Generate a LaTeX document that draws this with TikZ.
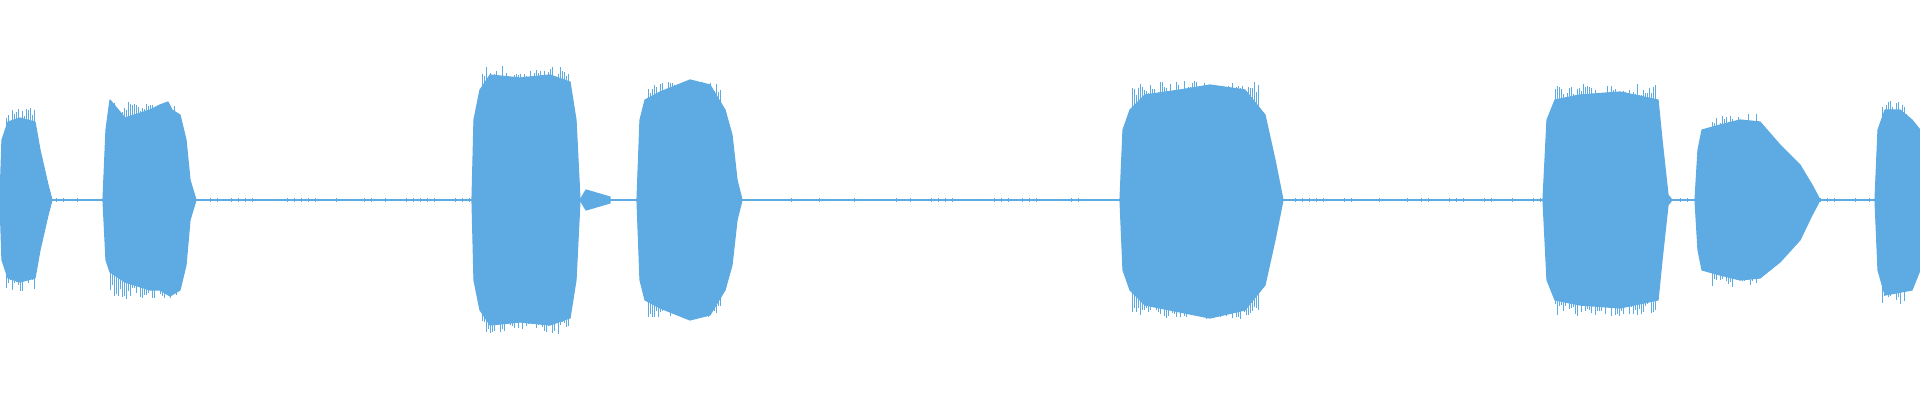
\documentclass[tikz,border=0pt]{standalone}
\usetikzlibrary{calc}
\definecolor{wave}{RGB}{93,171,226}
\tikzset{
  burst/.style = {fill=wave, draw=wave, line width=0.6pt, line join=round},
  spike/.style = {draw=wave, line width=0.5pt},
  baseline/.style = {draw=wave, line width=1.3pt}
}
% spikes over the flat part of a burst: x0, x1, top, bottom
\newcommand{\spikes}[4]{%
  \pgfmathsetmacro{\sxb}{#1+2}
  \foreach \sx in {#1,\sxb,...,#2} {
    \pgfmathsetmacro{\up}{#3-rnd*14}
    \pgfmathsetmacro{\dn}{#4+rnd*14}
    \draw[spike] (\sx,\up) -- (\sx,\dn);
  }}
\begin{document}
\begin{tikzpicture}[x=0.5pt,y=-0.5pt]
  \pgfmathsetseed{7}
  \useasboundingbox (0,0) rectangle (1920,400);
  \draw[baseline] (0,200) -- (1920,200);
  \foreach \nx in {0,7,...,1915} {
    \pgfmathsetmacro{\nz}{0.5+rnd*1.8}
    \draw[spike] (\nx,200-\nz) -- (\nx,200+\nz);
  }
  % bursts
  \fill[burst] (0,200) -- (2,140) -- (8,122) -- (20,118) -- (35,122) -- (40,150) -- (48,185) -- (52,200)
    -- (48,215) -- (40,250) -- (35,278) -- (20,282) -- (8,278) -- (2,260) -- cycle;
  \spikes{6}{34}{122}{278}
  \fill[burst] (103,200) -- (106,130) -- (110,100) -- (125,118) -- (150,110) -- (160,105) -- (168,102)
    -- (172,110) -- (180,115) -- (186,140) -- (190,180) -- (196,200) -- (190,220) -- (186,265)
    -- (180,290) -- (170,296) -- (160,290) -- (150,290) -- (125,282) -- (110,272) -- (106,260) -- cycle;
  \spikes{110}{176}{115}{285}
  \fill[burst] (472,200) -- (474,120) -- (480,90) -- (490,75) -- (520,78) -- (550,75) -- (570,82)
    -- (576,120) -- (580,200) -- (576,280) -- (570,318) -- (550,325) -- (520,322) -- (490,325)
    -- (480,310) -- (474,280) -- cycle;
  \fill[burst] (580,200) -- (586,190) -- (610,197) -- (610,203) -- (586,210) -- cycle;
  \spikes{482}{568}{80}{320}
  \fill[burst] (637,200) -- (640,120) -- (645,100) -- (660,92) -- (690,80) -- (710,85) -- (725,110)
    -- (732,135) -- (737,180) -- (742,200) -- (737,220) -- (732,265) -- (725,290) -- (710,315)
    -- (690,320) -- (660,308) -- (645,300) -- (640,280) -- cycle;
  \spikes{648}{720}{95}{305}
  \fill[burst] (1120,200) -- (1123,130) -- (1130,110) -- (1145,95) -- (1180,90) -- (1210,85)
    -- (1245,90) -- (1265,115) -- (1275,160) -- (1283,200) -- (1275,240) -- (1265,285)
    -- (1245,310) -- (1210,318) -- (1180,312) -- (1145,305) -- (1130,290) -- (1123,270) -- cycle;
  \spikes{1132}{1258}{95}{305}
  \fill[burst] (1543,200) -- (1547,120) -- (1555,100) -- (1580,95) -- (1620,92) -- (1658,100)
    -- (1662,140) -- (1668,195) -- (1672,200) -- (1668,205) -- (1662,260) -- (1658,300)
    -- (1620,308) -- (1580,305) -- (1555,300) -- (1547,280) -- cycle;
  \spikes{1555}{1655}{98}{302}
  \fill[burst] (1695,200) -- (1698,150) -- (1702,130) -- (1720,125) -- (1740,120) -- (1760,122)
    -- (1780,145) -- (1800,165) -- (1812,185) -- (1820,200) -- (1812,215) -- (1800,240)
    -- (1780,262) -- (1760,278) -- (1740,280) -- (1720,275) -- (1702,270) -- (1698,250) -- cycle;
  \spikes{1712}{1758}{127}{273}
  \fill[burst] (1875,200) -- (1878,130) -- (1885,110) -- (1900,110) -- (1912,120) -- (1920,130)
    -- (1920,270) -- (1912,290) -- (1885,295) -- (1878,270) -- cycle;
  \spikes{1882}{1906}{115}{290}
\end{tikzpicture}
\end{document}
